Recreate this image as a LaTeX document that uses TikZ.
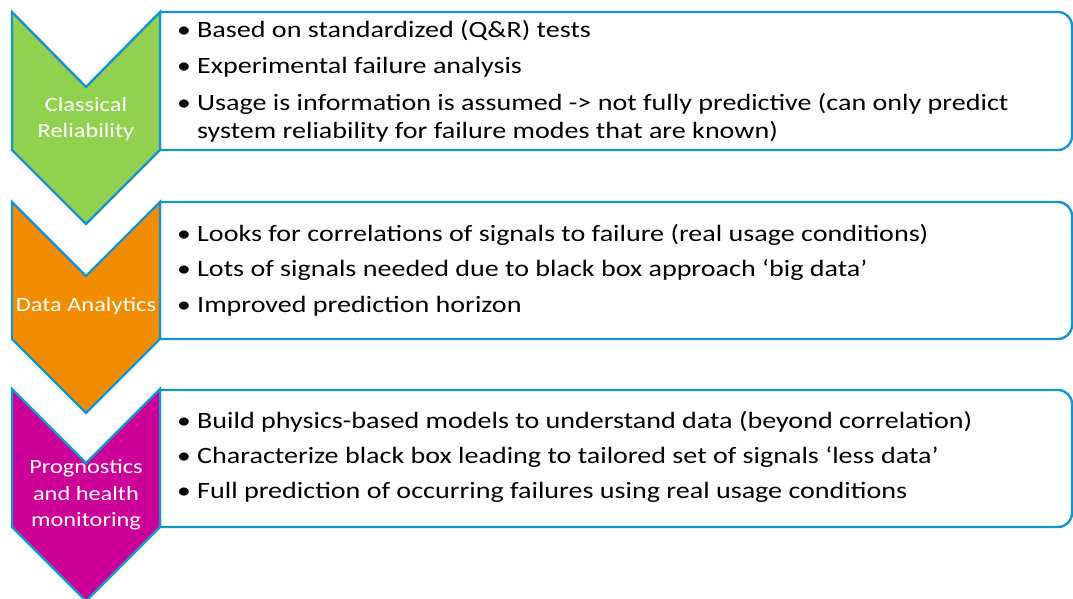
\documentclass[tikz,border=0pt]{standalone}
\usepackage{fontspec}
\setmainfont{Carlito}[FakeStretch=1.2]
\definecolor{cgreen}{RGB}{146,208,80}
\definecolor{corange}{RGB}{242,140,0}
\definecolor{cmagenta}{RGB}{204,0,153}
\definecolor{cblue}{RGB}{22,148,208}
\tikzset{
  chev/.style={draw=cblue, line width=2.4pt, line join=miter},
  tbox/.style={draw=cblue, line width=2.4pt, fill=white},
  btxt/.style={inner sep=0pt, anchor=base west, font=\fontsize{23.4}{28}\selectfont, text=black},
  bul/.style={inner sep=0pt, anchor=base, font=\fontsize{23}{28}\selectfont, text=black},
  ctxt/.style={inner sep=0pt, align=center, text=white, font=\fontsize{20.3}{26.5}\selectfont}
}
\begin{document}
\begin{tikzpicture}[x=1pt,y=-1pt]
\useasboundingbox (0,0) rectangle (1073,598);
\fill[white] (0,0) rectangle (1073,598);
% boxes
\draw[tbox] (160,150) -- (160,12) [rounded corners=14pt] -- (1072,12) -- (1072,150) [sharp corners] -- cycle;
\draw[tbox] (160,339) -- (160,202) [rounded corners=14pt] -- (1072,202) -- (1072,339) [sharp corners] -- cycle;
\draw[tbox] (160,527) -- (160,390) [rounded corners=14pt] -- (1072,390) -- (1072,527) [sharp corners] -- cycle;
% chevrons
\draw[chev, fill=cgreen] (12,12) -- (86,87) -- (160,12) -- (160,150) -- (86,224) -- (12,150) -- cycle;
\draw[chev, fill=corange] (12,202) -- (86,276) -- (160,202) -- (160,339) -- (86,413) -- (12,339) -- cycle;
\draw[chev, fill=cmagenta] (12,389) -- (86,463) -- (160,389) -- (160,527) -- (86,601) -- (12,527) -- cycle;
% chevron labels
\node[ctxt] (c1) at (86,119) {Classical\\Reliability};
\node[ctxt] (c2) at (86,306) {Data Analytics};
\node[ctxt] (c3) at (86,495) {Prognostics\\and health\\monitoring};
% box 1
\node[bul] (b11) at (184,37) {•};
\node[btxt] (t11) at (197,37) {Based on standardized (Q\&R) tests};
\node[bul] (b12) at (184,73) {•};
\node[btxt] (t12) at (197,73) {Experimental failure analysis};
\node[bul] (b13) at (184,110) {•};
\node[btxt] (t13) at (197,110) {Usage is information is assumed -> not fully predictive (can only predict};
\node[btxt] (t14) at (197,138) {system reliability for failure modes that are known)};
% box 2
\node[bul] (b21) at (184,241) {•};
\node[btxt] (t21) at (197,241) {Looks for correlations of signals to failure (real usage conditions)};
\node[bul] (b22) at (184,276) {•};
\node[btxt] (t22) at (197,276) {Lots of signals needed due to black box approach ‘big data’};
\node[bul] (b23) at (184,312) {•};
\node[btxt] (t23) at (197,312) {Improved prediction horizon};
% box 3
\node[bul] (b31) at (184,428) {•};
\node[btxt] (t31) at (197,428) {Build physics-based models to understand data (beyond correlation)};
\node[bul] (b32) at (184,463) {•};
\node[btxt] (t32) at (197,463) {Characterize black box leading to tailored set of signals ‘less data’};
\node[bul] (b33) at (184,498) {•};
\node[btxt] (t33) at (197,498) {Full prediction of occurring failures using real usage conditions};
\end{tikzpicture}
\end{document}
